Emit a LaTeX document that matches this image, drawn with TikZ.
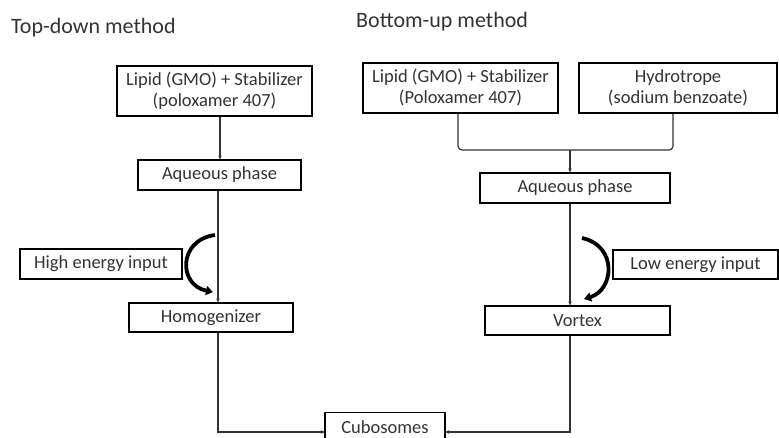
\documentclass[tikz,border=0pt]{standalone}
\usepackage{fontspec}
\setmainfont{Carlito}
\usetikzlibrary{arrows.meta}
\begin{document}
\begin{tikzpicture}[x=1pt,y=-1pt,
  box/.style={draw, line width=1.2pt, rectangle, inner sep=0pt, align=center, font=\fontsize{18.5}{21}\selectfont, text=black!80},
  conn/.style={line width=1.2pt, black!80},
  arr/.style={conn, -{Stealth[length=4pt,width=3.5pt]}},
  bigarr/.style={line width=3.8pt, -{Triangle[length=7pt,width=9pt]}},
  title/.style={font=\fontsize{22}{26}\selectfont, text=black!80, anchor=west, inner sep=0pt}]
\useasboundingbox (0,0) rectangle (779,437);
\node[title] (t1) at (11,28) {Top-down method};
\node[title] (t2) at (356,22) {Bottom-up method};
% left
\node[box, minimum width=195pt, minimum height=50pt] (L1) at (214.5,91) {Lipid (GMO) + Stabilizer\\(poloxamer 407)};
\node[box, minimum width=163pt, minimum height=30pt] (LA) at (219.5,175) {Aqueous phase};
\node[box, minimum width=164pt, minimum height=29pt] (LH) at (211,317.5) {Homogenizer};
\node[box, minimum width=162pt, minimum height=30pt] (HE) at (101,264) {High energy input};
% right
\node[box, minimum width=195pt, minimum height=50pt] (R1) at (460.5,88) {Lipid (GMO) + Stabilizer\\(Poloxamer 407)};
\node[box, minimum width=198pt, minimum height=50pt] (RH) at (678,88) {Hydrotrope\\(sodium benzoate)};
\node[box, minimum width=190pt, minimum height=30pt] (RA) at (575,188) {Aqueous phase};
\node[box, minimum width=185pt, minimum height=29pt] (RV) at (577.5,320.5) {Vortex};
\node[box, minimum width=165pt, minimum height=29pt] (LE) at (695.5,264.5) {Low energy input};
% bottom
\node[box, minimum width=120pt, minimum height=36pt, anchor=north] (C) at (385,412) {};
\node[font=\fontsize{18.5}{21}\selectfont, text=black!80] (Ct) at (385,427) {Cubosomes};
% coordinates
\coordinate (ux) at (220,0);
\coordinate (lx) at (218,0);
\coordinate (rx) at (570,0);
\coordinate (jl) at (458,150);
\coordinate (jr) at (673,150);
\coordinate (jm) at (570,150);
\coordinate (cl) at (325,432);
\coordinate (cr) at (445,432);
% connectors left
\draw[arr] (L1.south -| ux) -- (LA.north -| ux);
\draw[arr] (LA.south -| lx) -- (LH.north -| lx);
\draw[arr] (LH.south -| lx) |- (cl);
% connectors right
\draw[conn, rounded corners=4pt] (R1.south -| jl) -- (jl) -- (jr) -- (RH.south -| jr);
\draw[arr] (jm) -- (RA.north -| jm);
\draw[arr] (RA.south -| rx) -- (RV.north -| rx);
\draw[arr] (RV.south -| rx) |- (cr);
% energy arrows
\coordinate (ls) at (215,235);
\coordinate (le) at (213,292);
\coordinate (rs) at (582,238);
\coordinate (re) at (584,299);
\draw[bigarr] (ls) .. controls (178,240) and (178,285) .. (le);
\draw[bigarr] (rs) .. controls (618,246) and (614,290) .. (re);
\end{tikzpicture}
\end{document}
